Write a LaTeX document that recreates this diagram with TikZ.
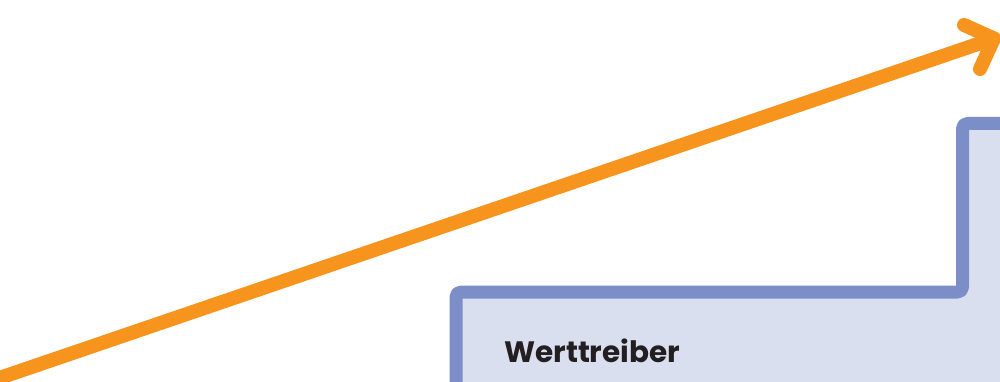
\documentclass[tikz,border=0pt]{standalone}
\usepackage{fontspec}
\setmainfont{Poppins}
\definecolor{arroworange}{HTML}{F7941D}
\definecolor{stepline}{HTML}{7B8EC8}
\definecolor{stepfill}{HTML}{DADFF0}
\definecolor{textdark}{HTML}{231F20}
\begin{document}
\begin{tikzpicture}[x=1pt,y=-1pt,
  stepshape/.style={draw=stepline,fill=stepfill,line width=13pt,rounded corners=5pt,line join=round},
  growth/.style={draw=arroworange,line width=14pt,line cap=round,line join=round},
  steplabel/.style={anchor=base west,inner sep=0pt,text=textdark,font=\fontsize{29.5}{32}\selectfont\bfseries}]
\useasboundingbox (0,0) rectangle (1000,382);
\clip (0,0) rectangle (1000,382);
\fill[white] (0,0) rectangle (1000,382);
% step shape
\draw[stepshape] (456,420) -- (456,292) -- (962.5,292) -- (962.5,123.5) -- (1020,123.5) -- (1020,420) -- cycle;
\node[steplabel] (label) at (504,362) {Werttreiber};
% growth arrow
\coordinate (start) at (-5,379.5);
\coordinate (tip) at (994,38.5);
\coordinate (armA) at (964,25);
\coordinate (armB) at (980,69);
\draw[growth] (start) -- (tip);
\draw[growth] (armA) -- (tip) -- (armB);
\end{tikzpicture}
\end{document}
